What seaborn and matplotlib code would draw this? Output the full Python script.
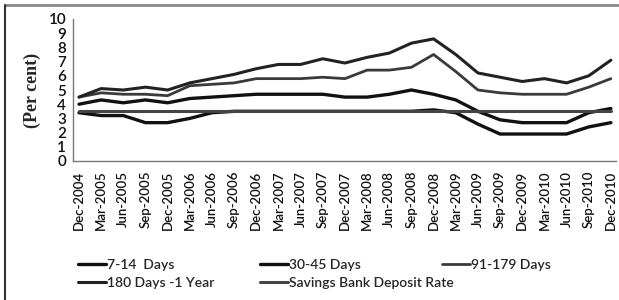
import matplotlib
matplotlib.use("Agg")
import matplotlib.pyplot as plt
from matplotlib.lines import Line2D
import seaborn as sns
import pandas as pd

quarters = ["Dec-2004", "Mar-2005", "Jun-2005", "Sep-2005", "Dec-2005", "Mar-2006",
            "Jun-2006", "Sep-2006", "Dec-2006", "Mar-2007", "Jun-2007", "Sep-2007",
            "Dec-2007", "Mar-2008", "Jun-2008", "Sep-2008", "Dec-2008", "Mar-2009",
            "Jun-2009", "Sep-2009", "Dec-2009", "Mar-2010", "Jun-2010", "Sep-2010",
            "Dec-2010"]

days_7_14 = [3.4, 3.2, 3.2, 2.7, 2.7, 3.0, 3.4, 3.5, 3.5, 3.5, 3.5, 3.5, 3.5,
             3.5, 3.5, 3.5, 3.6, 3.4, 2.6, 1.9, 1.9, 1.9, 1.9, 2.4, 2.7]
days_30_45 = [4.0, 4.3, 4.1, 4.3, 4.1, 4.4, 4.5, 4.6, 4.7, 4.7, 4.7, 4.7, 4.5,
              4.5, 4.7, 5.0, 4.7, 4.3, 3.5, 2.9, 2.7, 2.7, 2.7, 3.4, 3.7]
days_91_179 = [4.5, 4.8, 4.7, 4.7, 4.6, 5.3, 5.4, 5.5, 5.8, 5.8, 5.8, 5.9, 5.8,
               6.4, 6.4, 6.6, 7.5, 6.3, 5.0, 4.8, 4.7, 4.7, 4.7, 5.2, 5.8]
days_180_1y = [4.5, 5.1, 5.0, 5.2, 5.0, 5.5, 5.8, 6.1, 6.5, 6.8, 6.8, 7.2, 6.9,
               7.3, 7.6, 8.3, 8.6, 7.5, 6.2, 5.9, 5.6, 5.8, 5.5, 6.0, 7.1]
savings_rate = [3.5] * 25

series_names = ["7-14  Days", "30-45 Days", "91-179 Days", "180 Days -1 Year",
                "Savings Bank Deposit Rate"]
series_values = [days_7_14, days_30_45, days_91_179, days_180_1y, savings_rate]

rows = []
for name, vals in zip(series_names, series_values):
    for i, v in enumerate(vals):
        rows.append({"idx": i, "rate": v, "series": name})
df = pd.DataFrame(rows)

colors = {"7-14  Days": "#111111", "30-45 Days": "#111111", "91-179 Days": "#3a3a3a",
          "180 Days -1 Year": "#222222", "Savings Bank Deposit Rate": "#444444"}
widths = {"7-14  Days": 2.4, "30-45 Days": 2.4, "91-179 Days": 2.0,
          "180 Days -1 Year": 2.2, "Savings Bank Deposit Rate": 2.2}

sns.set_style("white")
plt.rcParams["font.family"] = ["Lato", "DejaVu Sans"]

fig = plt.figure(figsize=(6.19, 3.0), dpi=100)
ax = fig.add_axes([73 / 619, 1 - 161 / 300, (616 - 73) / 619, 142 / 300])

for name in series_names:
    sub = df[df["series"] == name]
    sns.lineplot(data=sub, x="idx", y="rate", ax=ax, color=colors[name],
                 linewidth=widths[name], legend=False)

ax.set_xlim(-0.27, 24.23)
ax.set_ylim(0, 10)
ax.set_yticks(range(0, 11))
ax.set_yticklabels([str(v) for v in range(0, 11)], fontsize=11, fontweight="semibold")
ax.set_xticks(range(len(quarters)))
ax.set_xticklabels(quarters, rotation=90, fontsize=9.5, fontweight="semibold")
ax.set_xlabel("")
ax.set_ylabel("(Per cent)", fontfamily="Liberation Serif", fontweight="bold",
              fontsize=13, labelpad=5)

for s in ["top", "right"]:
    ax.spines[s].set_visible(False)
for s in ["left", "bottom"]:
    ax.spines[s].set_color("#777777")
    ax.spines[s].set_linewidth(1.0)
ax.tick_params(axis="both", which="both", length=3, width=0.8, color="#777777",
               direction="out", pad=2, labelcolor="#111111")
ax.tick_params(axis="x", pad=4)

# legend in three aligned columns
handles = {n: Line2D([0], [0], color=colors[n], linewidth=widths[n]) for n in series_names}
cols = [(78, ["7-14  Days", "180 Days -1 Year"]),
        (260, ["30-45 Days", "Savings Bank Deposit Rate"]),
        (442, ["91-179 Days"])]
for x0, names in cols:
    fig.legend([handles[n] for n in names], names, loc="upper left",
               bbox_to_anchor=(x0 / 619, 1 - 259 / 300), frameon=False,
               handlelength=2.0, handletextpad=0.1, borderpad=0, borderaxespad=0,
               labelspacing=0.45, prop={"family": "Lato", "size": 10, "weight": "semibold"})

# scanned frame lines
fig.add_artist(Line2D([5 / 619, 618 / 619], [1 - 5 / 300, 1 - 5 / 300],
                      transform=fig.transFigure, color="#888888", linewidth=2))
fig.add_artist(Line2D([5 / 619, 5 / 619], [0, 1 - 5 / 300],
                      transform=fig.transFigure, color="#333333", linewidth=1.5))

fig.savefig("out.png", dpi=100)
